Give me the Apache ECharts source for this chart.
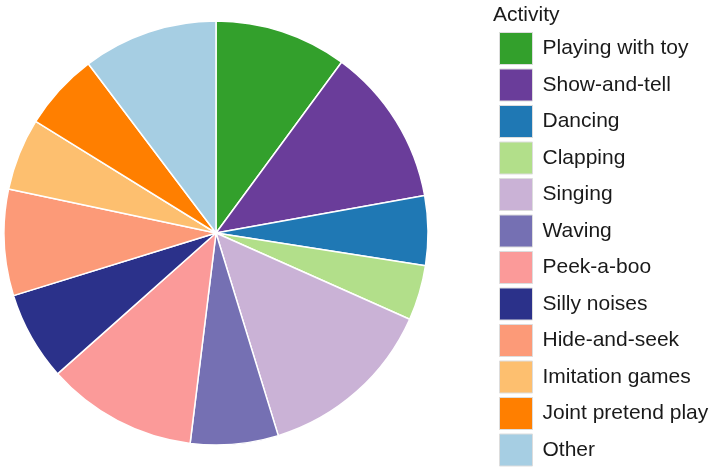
<!DOCTYPE html>
<html>
<head>
<meta charset="utf-8">
<script src="https://cdn.jsdelivr.net/npm/echarts@6/dist/echarts.min.js"></script>
<style>
    html, body { margin: 0; padding: 0; background: #fff; }
    #pie { width: 709px; height: 470px; }
</style>
</head>
<body>
<div id="pie"></div>
<script>
    // activity shares (percent), read clockwise from 12 o'clock
    var activities = ['Playing with toy', 'Show-and-tell', 'Dancing', 'Clapping', 'Singing', 'Waving',
        'Peek-a-boo', 'Silly noises', 'Hide-and-seek', 'Imitation games', 'Joint pretend play', 'Other'];
    var shares = [10.1, 12.1, 5.3, 4.2, 13.6, 6.7, 11.5, 6.8, 8.1, 5.5, 5.9, 10.3];
    var colors = ['#33a02c', '#6a3d9a', '#1f78b4', '#b2df8a', '#cab2d6', '#7570b3',
        '#fb9a99', '#2b318a', '#fc9a78', '#fdbf6f', '#ff7f00', '#a6cee3'];

    var pieData = [];
    for (var i = 0; i < activities.length; i++) {
        pieData.push({ name: activities[i], value: shares[i] });
    }

    var myChart = echarts.init(document.getElementById('pie'));
    myChart.setOption({
        color: colors,
        animation: false,
        textStyle: { fontFamily: 'Liberation Sans, Arial, sans-serif' },
        title: {
            text: 'Activity',
            left: 488,
            top: 0,
            textStyle: { fontSize: 21, fontWeight: 'normal', color: '#1a1a1a' }
        },
        legend: {
            orient: 'vertical',
            left: 494,
            top: 27,
            height: 445,
            icon: 'rect',
            itemWidth: 33,
            itemHeight: 32,
            itemGap: 3.5,
            selectedMode: false,
            itemStyle: { borderColor: '#dddddd', borderWidth: 1 },
            textStyle: { fontSize: 21, color: '#1a1a1a', padding: [0, 0, 0, 5] },
            data: activities
        },
        series: [
            {
                name: 'Activity',
                type: 'pie',
                center: [216, 233],
                radius: 212,
                startAngle: 90,
                clockwise: true,
                label: { show: false },
                labelLine: { show: false },
                itemStyle: { borderColor: '#ffffff', borderWidth: 1.5 },
                emphasis: { disabled: true },
                data: pieData
            }
        ]
    });
</script>
</body>
</html>
